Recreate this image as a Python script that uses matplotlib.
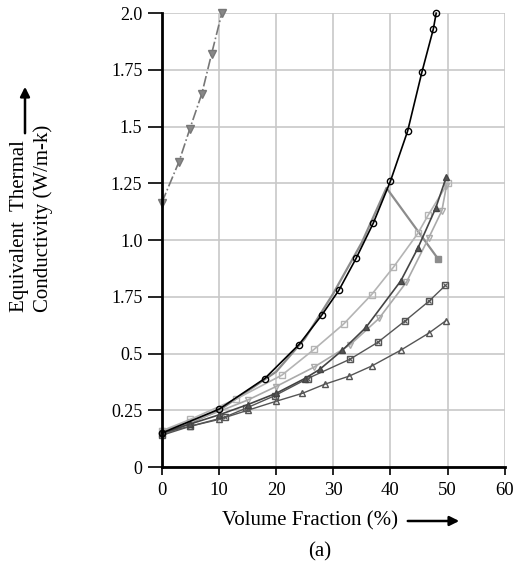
import matplotlib.pyplot as plt

plt.rcParams['font.family'] = ['Liberation Serif', 'DejaVu Serif']

# series
x_circ = [0, 10, 18, 24, 28, 31, 34, 37, 40, 43, 45.5, 47.5, 48]
y_circ = [0.15, 0.255, 0.39, 0.54, 0.67, 0.78, 0.92, 1.075, 1.26, 1.48, 1.74, 1.93, 2.0]

x_peak = [0, 10, 20, 25, 30, 35, 39.3, 48.4]
y_peak = [0.14, 0.25, 0.42, 0.565, 0.765, 0.99, 1.23, 0.915]

x_lsq = [0, 5, 13, 21, 26.7, 31.8, 36.7, 40.5, 44.8, 46.6, 50]
y_lsq = [0.16, 0.21, 0.30, 0.405, 0.52, 0.63, 0.76, 0.88, 1.03, 1.11, 1.25]

x_ltri = [0, 5, 10, 15, 20, 26.6, 33, 38, 42.8, 46.7, 49, 49.8]
y_ltri = [0.16, 0.2, 0.245, 0.295, 0.355, 0.44, 0.54, 0.655, 0.815, 1.01, 1.13, 1.24]

x_ftri = [0, 5, 10, 15, 20, 25, 27.6, 31.6, 35.7, 41.8, 44.8, 47.9, 49.8]
y_ftri = [0.15, 0.19, 0.23, 0.275, 0.325, 0.39, 0.43, 0.515, 0.615, 0.82, 0.965, 1.14, 1.28]

x_xsq = [0, 5, 11, 14.8, 19.8, 25.5, 32.9, 37.8, 42.6, 46.7, 49.6]
y_xsq = [0.14, 0.18, 0.22, 0.26, 0.315, 0.39, 0.475, 0.55, 0.645, 0.73, 0.80]

x_otri = [0, 5, 10, 15, 20, 24.6, 28.5, 32.7, 36.7, 41.8, 46.7, 49.7]
y_otri = [0.15, 0.18, 0.21, 0.25, 0.29, 0.325, 0.365, 0.40, 0.445, 0.515, 0.59, 0.645]

x_down = [0, 3, 4.9, 7, 8.7, 10.5]
y_down = [1.165, 1.345, 1.49, 1.645, 1.82, 2.0]

yticks = [0, 0.25, 0.5, 0.75, 1.0, 1.25, 1.5, 1.75, 2.0]
ylabels = ['0', '0.25', '0.5', '1.75', '1.0', '1.25', '1.5', '1.75', '2.0']

fig = plt.figure(figsize=(5.22, 5.71), dpi=100)
ax = fig.add_axes([0.310, 0.182, 0.657, 0.795])

ax.plot(x_peak, y_peak, color='#8c8c8c', lw=1.6, clip_on=False)
ax.plot(x_peak[-1:], y_peak[-1:], 's', color='#8c8c8c', ms=4, clip_on=False)
ax.plot(x_lsq, y_lsq, '-s', color='#b4b4b4', lw=1.2, ms=5, mfc='none', clip_on=False)
ax.plot(x_ltri, y_ltri, '-v', color='#aaaaaa', lw=1.2, ms=5, mfc='none', clip_on=False)
ax.plot(x_otri, y_otri, '-^', color='#555555', lw=1.0, ms=5, mfc='none', clip_on=False)
ax.plot(x_xsq, y_xsq, '-s', color='#555555', lw=1.0, ms=5, mfc='none', clip_on=False)
ax.plot(x_xsq, y_xsq, 'x', color='#555555', ms=3.5, mew=0.8, clip_on=False)
ax.plot(x_ftri, y_ftri, '-^', color='#444444', lw=1.2, ms=5, mfc='#555555', clip_on=False)
ax.plot(x_circ, y_circ, '-o', color='black', lw=1.2, ms=4.5, mfc='none', clip_on=False)
ax.plot(x_down, y_down, '-.v', color='#777777', lw=1.2, ms=6, mfc='#888888', clip_on=False)

ax.set_xlim(0, 60)
ax.set_ylim(0, 2.0)
ax.set_xticks(range(0, 61, 10))
ax.set_yticks(yticks)
ax.set_yticklabels(ylabels)
ax.grid(True, color='#c8c8c8', lw=1.2)
ax.set_axisbelow(True)
for s in ['top', 'right']:
    ax.spines[s].set_visible(False)
ax.spines['left'].set_linewidth(2)
ax.spines['bottom'].set_linewidth(2)
ax.tick_params(axis='x', direction='out', length=6, width=1.2, labelsize=13.5, pad=5)
ax.tick_params(axis='y', direction='out', length=10, width=1.2, labelsize=13, pad=4)

# axis titles with arrows
arrow = dict(arrowstyle='-|>', color='black', lw=1.8, mutation_scale=14)
fig.text(398 / 522, 1 - 521 / 571, 'Volume Fraction (%)', ha='right', va='center', fontsize=15)
ax.annotate('', xy=(462 / 522, 1 - 521 / 571), xytext=(405 / 522, 1 - 521 / 571),
            xycoords='figure fraction', textcoords='figure fraction',
            arrowprops=arrow, annotation_clip=False)
fig.text(320 / 522, 1 - 552 / 571, '(a)', ha='center', va='center', fontsize=15)

fig.text(20 / 522, 1 - 312 / 571, 'Equivalent  Thermal', rotation=90,
         ha='center', va='bottom', fontsize=15)
fig.text(43 / 522, 1 - 312 / 571, 'Conductivity (W/m-k)', rotation=90,
         ha='center', va='bottom', fontsize=15)
ax.annotate('', xy=(25 / 522, 1 - 84 / 571), xytext=(25 / 522, 1 - 136 / 571),
            xycoords='figure fraction', textcoords='figure fraction',
            arrowprops=arrow, annotation_clip=False)

fig.savefig('out.png', dpi=100)
